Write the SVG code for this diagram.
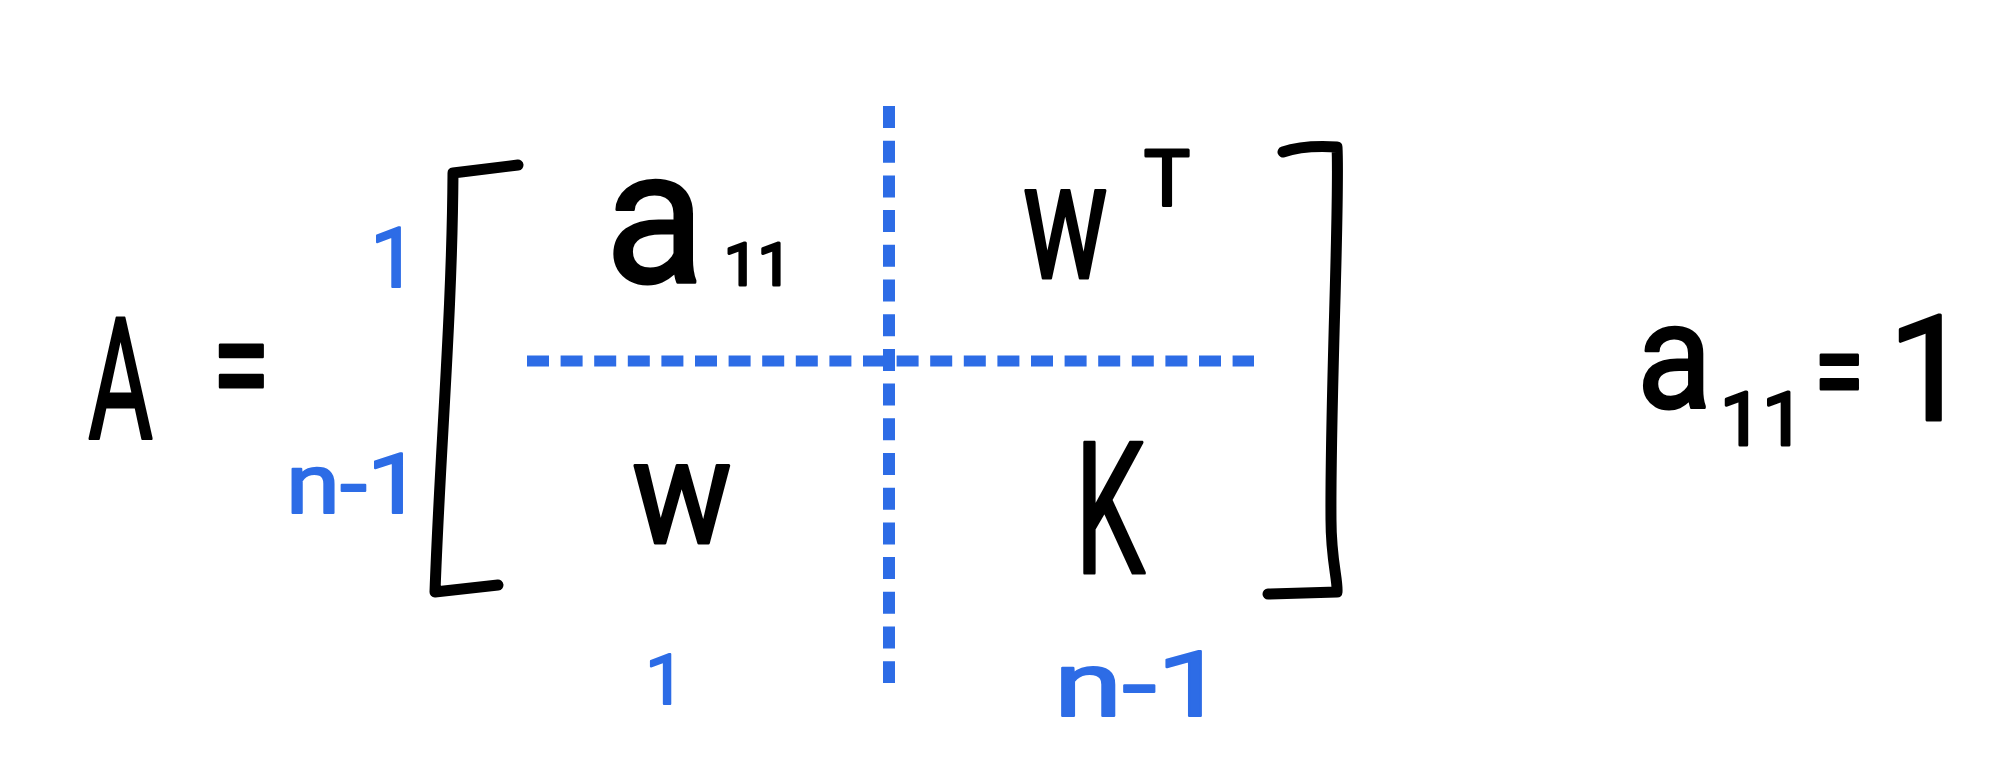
<svg xmlns="http://www.w3.org/2000/svg" width="2000" height="776" viewBox="0 0 2000 776">
<style>
.ink{fill:#000;stroke:#000;stroke-width:3;stroke-linejoin:round;font-family:Roboto,"Liberation Sans",Arial,sans-serif}
.blue{fill:#2d6ce6;stroke:#2d6ce6;stroke-width:2;stroke-linejoin:round;font-family:Roboto,"Liberation Sans",Arial,sans-serif}
.bracket{fill:none;stroke:#000;stroke-width:11;stroke-linecap:round;stroke-linejoin:round}
.dash{stroke:#2d6ce6;fill:none}
</style>
<rect width="2000" height="776" fill="#fff"/>
<g id="lhs">
<text class="ink" x="88" y="438" font-size="169" textLength="65" lengthAdjust="spacingAndGlyphs">A</text>
<text class="ink" x="212" y="416" font-size="150" textLength="58" lengthAdjust="spacingAndGlyphs">=</text>
</g>
<g id="row-labels">
<text class="blue" x="370" y="287" font-size="84">1</text>
<text class="blue" x="286" y="513" font-size="84" textLength="136" lengthAdjust="spacingAndGlyphs">n-1</text>
</g>
<g id="brackets">
<path class="bracket" d="M518,165 L453,173 C452,320 440,450 435,592 L498,585"/>
<path class="bracket" d="M1283,152 C1300,146 1320,146 1337,147 C1340,200 1330,400 1331,520 C1331,560 1338,580 1337,592 L1268,594"/>
</g>
<g id="dividers">
<line class="dash" x1="527" y1="361" x2="1254" y2="361" stroke-width="11" stroke-dasharray="22 11.6"/>
<line class="dash" x1="889" y1="106" x2="889" y2="683" stroke-width="12" stroke-dasharray="22 12.7"/>
</g>
<g id="cell-a11">
<text class="ink" x="605" y="282" font-size="190" textLength="100" lengthAdjust="spacingAndGlyphs">a</text>
<text class="ink" x="724" y="285" font-size="60">11</text>
</g>
<g id="cell-wT">
<text class="ink" x="1023" y="278" font-size="166" textLength="85" lengthAdjust="spacingAndGlyphs">w</text>
<text class="ink" x="1144" y="205" font-size="77">T</text>
</g>
<g id="cell-w">
<text class="ink" x="632" y="543" font-size="146" textLength="100" lengthAdjust="spacingAndGlyphs">w</text>
</g>
<g id="cell-K">
<text class="ink" x="1075" y="573" font-size="183" textLength="70" lengthAdjust="spacingAndGlyphs">K</text>
</g>
<g id="col-labels">
<text class="blue" x="645" y="704" font-size="71">1</text>
<text class="blue" x="1054" y="716" font-size="90" textLength="172" lengthAdjust="spacingAndGlyphs">n-1</text>
</g>
<g id="note">
<text class="ink" x="1637" y="408" font-size="148" textLength="75" lengthAdjust="spacingAndGlyphs">a</text>
<text class="ink" x="1720" y="445" font-size="75">11</text>
<text class="ink" x="1814" y="413" font-size="120" textLength="50" lengthAdjust="spacingAndGlyphs">=</text>
<text class="ink" x="1888" y="420" font-size="147">1</text>
</g>
</svg>
